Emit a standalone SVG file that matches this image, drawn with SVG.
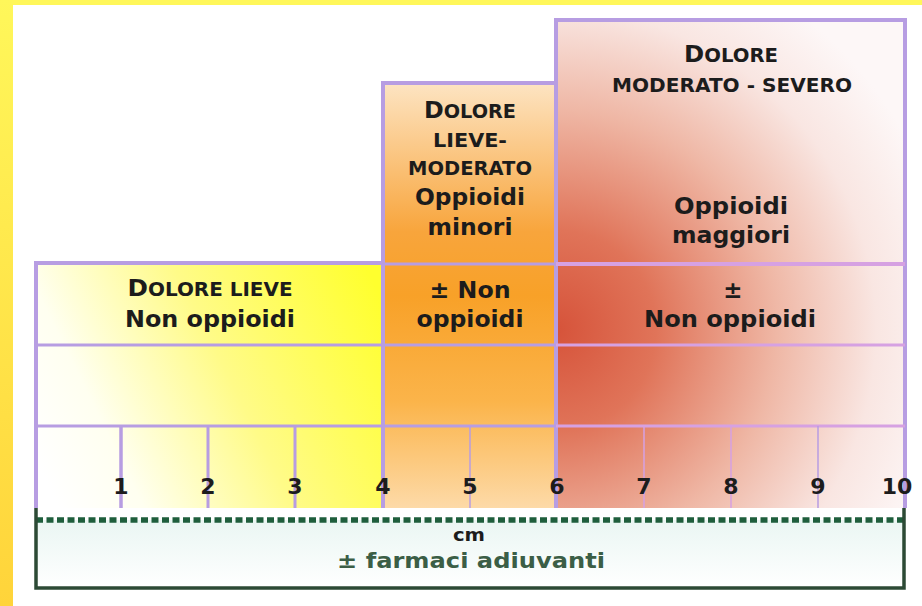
<svg xmlns="http://www.w3.org/2000/svg" width="922" height="606" viewBox="0 0 922 606">
  <defs>
    <linearGradient id="gYellowStrip" x1="0" y1="0" x2="0" y2="1">
      <stop offset="0" stop-color="#fff75a"/>
      <stop offset="1" stop-color="#ffd43a"/>
    </linearGradient>
    <linearGradient id="gLeft" gradientUnits="userSpaceOnUse" x1="40" y1="470" x2="383" y2="300">
      <stop offset="0" stop-color="#ffffff"/>
      <stop offset="0.2" stop-color="#fffff0"/>
      <stop offset="0.55" stop-color="#fffb88"/>
      <stop offset="1" stop-color="#ffff2e"/>
    </linearGradient>
    <linearGradient id="gMid" gradientUnits="userSpaceOnUse" x1="0" y1="83" x2="0" y2="508">
      <stop offset="0" stop-color="#fde4c2"/>
      <stop offset="0.35" stop-color="#f8a53c"/>
      <stop offset="0.5" stop-color="#f8a128"/>
      <stop offset="0.75" stop-color="#fbb44a"/>
      <stop offset="1" stop-color="#fddaa8"/>
    </linearGradient>
    <radialGradient id="gRight" gradientUnits="userSpaceOnUse" cx="556" cy="330" r="400">
      <stop offset="0" stop-color="#d6533a"/>
      <stop offset="0.25" stop-color="#e07459"/>
      <stop offset="0.55" stop-color="#efb7a5"/>
      <stop offset="0.8" stop-color="#f9e6e2"/>
      <stop offset="1" stop-color="#fdf7f7"/>
    </radialGradient>
    <linearGradient id="gBottom" x1="0" y1="0" x2="0" y2="1">
      <stop offset="0" stop-color="#eaf6f3"/>
      <stop offset="1" stop-color="#ffffff"/>
    </linearGradient>
    <style>
      .pl { stroke: #b79de2; fill: none; }
      .pr { stroke: #d6a1e2; fill: none; }
      .t { font-family: "DejaVu Sans", Verdana, sans-serif; font-weight: bold; fill: #1c1c1c; text-anchor: middle; }
      .num { font-family: "DejaVu Sans", Verdana, sans-serif; font-weight: bold; fill: #1c1c1c; text-anchor: middle; font-size: 22px; }
      .g { stroke: #2c4a35; fill: none; stroke-width: 3.5; }
    </style>
  </defs>

  <!-- background -->
  <rect x="0" y="0" width="922" height="606" fill="#ffffff"/>
  <rect x="0" y="0" width="922" height="5" fill="#fff75a"/>
  <rect x="0" y="0" width="13" height="606" fill="url(#gYellowStrip)"/>

  <!-- left column: dolore lieve -->
  <g id="lieve">
    <rect x="36" y="263" width="347" height="245" fill="url(#gLeft)"/>
    <path class="pl" stroke-width="4" d="M36 508 V263 H383"/>
    <line class="pl" stroke-width="3" x1="36" y1="345" x2="383" y2="345"/>
    <line class="pl" stroke-width="3" x1="36" y1="426" x2="383" y2="426"/>
    <text class="t" x="210" y="296" textLength="165" lengthAdjust="spacingAndGlyphs"><tspan font-size="23.5">D</tspan><tspan font-size="19">OLORE LIEVE</tspan></text>
    <text class="t" x="210" y="327" font-size="23" textLength="170" lengthAdjust="spacingAndGlyphs">Non oppioidi</text>
  </g>

  <!-- middle column: dolore lieve-moderato -->
  <g id="lieve-moderato">
    <rect x="383" y="83" width="173" height="425" fill="url(#gMid)"/>
    <path class="pl" stroke-width="4" d="M383 508 V83 H556"/>
    <line class="pl" stroke-width="3" x1="383" y1="264" x2="556" y2="264"/>
    <line class="pl" stroke-width="3" x1="383" y1="345" x2="556" y2="345"/>
    <line class="pl" stroke-width="3" x1="383" y1="426" x2="556" y2="426"/>
    <text class="t" x="470" y="118" textLength="92" lengthAdjust="spacingAndGlyphs"><tspan font-size="23.5">D</tspan><tspan font-size="19">OLORE</tspan></text>
    <text class="t" x="470" y="147" font-size="19" textLength="74" lengthAdjust="spacingAndGlyphs">LIEVE-</text>
    <text class="t" x="470" y="175" font-size="19" textLength="124" lengthAdjust="spacingAndGlyphs">MODERATO</text>
    <text class="t" x="470" y="205" font-size="23" textLength="110" lengthAdjust="spacingAndGlyphs">Oppioidi</text>
    <text class="t" x="470" y="235" font-size="23" textLength="85" lengthAdjust="spacingAndGlyphs">minori</text>
    <text class="t" x="470" y="298" font-size="23" textLength="81" lengthAdjust="spacingAndGlyphs">± Non</text>
    <text class="t" x="470" y="327" font-size="23" textLength="107" lengthAdjust="spacingAndGlyphs">oppioidi</text>
  </g>

  <!-- right column: dolore moderato-severo -->
  <g id="moderato-severo">
    <rect x="556" y="20" width="349" height="488" fill="url(#gRight)"/>
    <path class="pl" stroke-width="4" d="M556 508 V20 H905 V508"/>
    <line class="pr" stroke-width="4" x1="556" y1="264" x2="905" y2="264"/>
    <line class="pr" stroke-width="3" x1="556" y1="345" x2="905" y2="345"/>
    <line class="pr" stroke-width="3" x1="556" y1="426" x2="905" y2="426"/>
    <text class="t" x="731" y="62" textLength="94" lengthAdjust="spacingAndGlyphs"><tspan font-size="23.5">D</tspan><tspan font-size="19">OLORE</tspan></text>
    <text class="t" x="732" y="92" font-size="19" textLength="240" lengthAdjust="spacingAndGlyphs">MODERATO - SEVERO</text>
    <text class="t" x="731" y="214" font-size="23" textLength="114" lengthAdjust="spacingAndGlyphs">Oppioidi</text>
    <text class="t" x="731" y="243" font-size="23" textLength="118" lengthAdjust="spacingAndGlyphs">maggiori</text>
    <text class="t" x="733" y="298" font-size="23">±</text>
    <text class="t" x="730" y="327" font-size="23" textLength="172" lengthAdjust="spacingAndGlyphs">Non oppioidi</text>
  </g>

  <!-- scale -->
  <g id="scale">
    <line class="pl" stroke-width="3.5" x1="121" y1="426" x2="121" y2="508"/>
    <line class="pl" stroke-width="3" x1="208" y1="426" x2="208" y2="508"/>
    <line class="pl" stroke-width="3" x1="295" y1="426" x2="295" y2="508"/>
    <line class="pl" stroke-width="1.5" x1="470" y1="426" x2="470" y2="508"/>
    <line class="pr" stroke-width="1.5" x1="644" y1="426" x2="644" y2="508"/>
    <line class="pr" stroke-width="1.5" x1="731" y1="426" x2="731" y2="508"/>
    <line class="pl" stroke-width="1.5" x1="818" y1="426" x2="818" y2="508"/>
    <text class="num" x="121" y="494">1</text>
    <text class="num" x="208" y="494">2</text>
    <text class="num" x="295" y="494">3</text>
    <text class="num" x="383" y="494">4</text>
    <text class="num" x="470" y="494">5</text>
    <text class="num" x="557" y="494">6</text>
    <text class="num" x="644" y="494">7</text>
    <text class="num" x="731" y="494">8</text>
    <text class="num" x="818" y="494">9</text>
    <text class="num" x="897" y="494">10</text>
  </g>

  <!-- bottom box: farmaci adiuvanti -->
  <g id="adiuvanti">
    <rect x="36" y="520" width="869" height="68" fill="url(#gBottom)"/>
    <line x1="36" y1="520" x2="905" y2="520" stroke="#1e5e3c" stroke-width="5.5" stroke-dasharray="7 3.5"/>
    <path class="g" d="M36 508 V588 H904 V508"/>
    <text class="t" x="469" y="541" font-size="17" textLength="32" lengthAdjust="spacingAndGlyphs">cm</text>
    <text class="t" x="471" y="568" font-size="22" style="fill:#3b5e46" textLength="268" lengthAdjust="spacingAndGlyphs">± farmaci adiuvanti</text>
  </g>

  <g id="connectors"/>
</svg>
